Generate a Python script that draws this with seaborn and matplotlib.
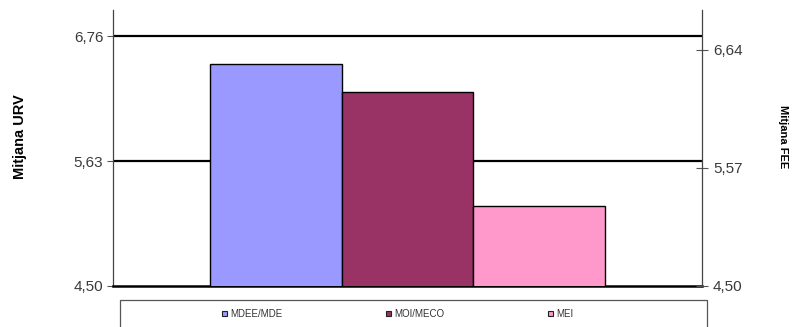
import matplotlib
matplotlib.use("Agg")
import matplotlib.pyplot as plt
import seaborn as sns
import pandas as pd
from matplotlib.patches import Rectangle, Patch

# data
programs = ['MDEE/MDE', 'MOI/MECO', 'MEI']
urv_mean = [6.51, 6.26, 5.22]
colors = ['#9999FF', '#993366', '#FF99CC']

left_ticks = [4.50, 5.63, 6.76]
left_labels = ['4,50', '5,63', '6,76']
right_ticks = [4.50, 5.57, 6.64]
right_labels = ['4,50', '5,57', '6,64']

df = pd.DataFrame({'program': programs, 'mean': urv_mean})

sns.set_style('white')
plt.rcParams['font.family'] = ['Liberation Sans', 'DejaVu Sans']

fig = plt.figure(figsize=(7.93, 3.27), dpi=100)
ax = fig.add_axes([113/793, 1 - 285.7/327, 589/793, 275.7/327])

sns.barplot(data=df, x='program', y='mean', hue='program', palette=colors,
            saturation=1, width=1, edgecolor='black', linewidth=1,
            legend=False, ax=ax, zorder=3)

ax.set_ylim(4.5, 7.0)
ax.set_xlim(-1.24, 3.24)
ax.set_yticks(left_ticks)
ax.set_yticklabels(left_labels)
ax.set_xticks([])
ax.set_xlabel('')
for y in left_ticks[1:]:
    ax.axhline(y, color='black', lw=1.6, zorder=1)
ax.tick_params(axis='y', direction='out', length=4, width=0.8, color='#555555',
               labelsize=11, labelcolor='#3a3a3a', pad=3, left=True)
ax.spines['top'].set_visible(False)
ax.spines['bottom'].set_color('black')
ax.spines['bottom'].set_linewidth(1.8)
ax.spines['left'].set_color('#444444')
ax.spines['left'].set_linewidth(0.9)
ax.spines['right'].set_visible(False)
ax.set_ylabel('Mitjana URV', fontsize=10.5, fontweight='bold', color='black',
              rotation=90, ha='center', va='center', rotation_mode='default')
ax.yaxis.set_label_coords(-0.158, 0.54)

ax2 = ax.twinx()
ax2.set_ylim(4.5, 7.0)
ax2.set_yticks(right_ticks)
ax2.set_yticklabels(right_labels)
ax2.tick_params(axis='y', direction='inout', length=8, width=0.8, color='#555555',
                labelsize=11, labelcolor='#3a3a3a', pad=4, right=True)
ax2.spines['top'].set_visible(False)
ax2.spines['bottom'].set_visible(False)
ax2.spines['left'].set_visible(False)
ax2.spines['right'].set_color('#444444')
ax2.spines['right'].set_linewidth(0.9)
ax2.set_ylabel('Mitjana FEE', fontsize=8, fontweight='bold', color='black',
               rotation=-90, ha='center', va='center', rotation_mode='default')
ax2.yaxis.set_label_coords(1.1375, 0.54)

# legend box at the bottom
fig.patches.append(Rectangle((120/793, -0.05), 587/793, 0.05 + 1 - 300/327,
                             transform=fig.transFigure, fill=False,
                             edgecolor='#555555', lw=0.9))
handles = [Patch(facecolor=c, edgecolor='#222222', lw=0.8) for c in colors]
fig.legend(handles, programs, ncol=3, loc='center left',
           bbox_to_anchor=(222/793, 1 - 314/327), frameon=False,
           fontsize=7, handlelength=0.55, handleheight=0.55, handletextpad=0.25,
           columnspacing=10.7, borderpad=0, borderaxespad=0, labelcolor='#333333')

fig.savefig('out.png', dpi=100)
